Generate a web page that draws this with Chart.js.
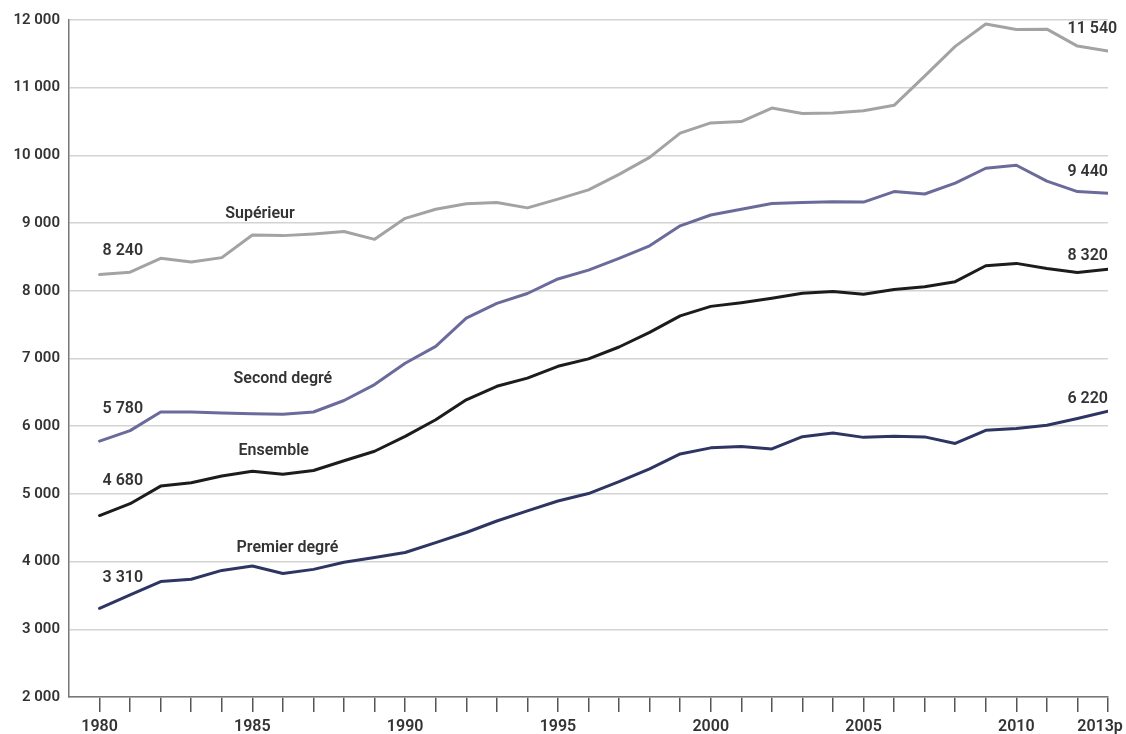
<!DOCTYPE html>
<html><head><meta charset="utf-8">
<script src="https://cdn.jsdelivr.net/npm/chart.js@4.4.0/dist/chart.umd.min.js"></script>
<style>html,body{margin:0;padding:0;background:#fff;}#wrap{width:1126px;height:734px;position:relative;}</style>
</head><body><div id="wrap"><canvas id="c"></canvas></div>
<script>
const years = [1980,1981,1982,1983,1984,1985,1986,1987,1988,1989,1990,1991,1992,1993,1994,1995,1996,1997,1998,1999,2000,2001,2002,2003,2004,2005,2006,2007,2008,2009,2010,2011,2012,2013];
const superieur = [8240,8275,8480,8425,8490,8825,8815,8840,8875,8760,9070,9205,9285,9305,9225,9355,9490,9720,9970,10330,10480,10500,10700,10620,10625,10660,10740,11170,11610,11940,11860,11865,11615,11540];
const secondDegre = [5780,5935,6210,6210,6195,6185,6175,6210,6380,6615,6930,7180,7595,7815,7960,8175,8305,8480,8665,8960,9120,9205,9290,9305,9315,9310,9465,9430,9590,9810,9855,9620,9465,9440];
const ensemble = [4680,4855,5115,5165,5265,5335,5290,5345,5490,5630,5850,6095,6390,6590,6710,6885,6995,7170,7385,7630,7770,7825,7890,7965,7990,7950,8020,8060,8135,8370,8405,8330,8270,8320];
const premierDegre = [3310,3510,3705,3740,3870,3935,3825,3885,3990,4060,4135,4280,4430,4600,4750,4895,5005,5180,5370,5590,5680,5700,5665,5845,5900,5835,5850,5842,5745,5940,5965,6015,6115,6220];
const yTicks = [2000,3000,4000,5000,6000,7000,8000,9000,10000,11000,12000];
const xTickYears = [1980,1985,1990,1995,2000,2005,2010,2013];
const xTickLabels = ['1980','1985','1990','1995','2000','2005','2010','2013p'];
const seriesNames = ['Supérieur','Second degré','Ensemble','Premier degré'];
const seriesColors = ['#a3a3a3','#6b6b9b','#1c1c1c','#2f3563'];
// text annotations anchored in data coordinates (year, value)
const nameLabels = [
  {text:'Supérieur', x:1985.25, y:9135},
  {text:'Second degré', x:1986.0, y:6695},
  {text:'Ensemble', x:1985.7, y:5630},
  {text:'Premier degré', x:1986.15, y:4200}
];
const startLabels = [
  {text:'8 240', x:1980.1, y:8590},
  {text:'5 780', x:1980.1, y:6250},
  {text:'4 680', x:1980.1, y:5190},
  {text:'3 310', x:1980.1, y:3755}
];
const endLabels = [
  {text:'11 540', x:2013.3, y:11870},
  {text:'9 440', x:2013, y:9760},
  {text:'8 320', x:2013, y:8515},
  {text:'6 220', x:2013, y:6400}
];

const FONT_FAMILY = 'Roboto, "DejaVu Sans", sans-serif';
const fmt = v => String(v).replace(/\B(?=(\d{3})+(?!\d))/g, ' ');

const seriesData = [superieur, secondDegre, ensemble, premierDegre];
const datasets = seriesData.map((arr, i) => ({
  label: seriesNames[i],
  data: years.map((yr, k) => ({x: yr, y: arr[k]})),
  borderColor: seriesColors[i],
  backgroundColor: seriesColors[i],
  borderWidth: 3,
  pointRadius: 0,
  tension: 0,
  fill: false,
  borderJoinStyle: 'round',
  borderCapStyle: 'round'
}));

const annotPlugin = {
  id: 'annot',
  afterDatasetsDraw(chart) {
    const {ctx, scales:{x, y}} = chart;
    ctx.save();
    ctx.fillStyle = '#333';
    ctx.font = '600 16px ' + FONT_FAMILY;
    ctx.textBaseline = 'middle';
    ctx.textAlign = 'center';
    nameLabels.forEach(l => ctx.fillText(l.text, x.getPixelForValue(l.x), y.getPixelForValue(l.y)));
    ctx.textAlign = 'left';
    startLabels.forEach(l => ctx.fillText(l.text, x.getPixelForValue(l.x), y.getPixelForValue(l.y)));
    ctx.textAlign = 'right';
    endLabels.forEach(l => ctx.fillText(l.text, x.getPixelForValue(l.x), y.getPixelForValue(l.y)));
    ctx.restore();
  }
};

new Chart(document.getElementById('c'), {
  type: 'line',
  data: { datasets },
  plugins: [annotPlugin],
  options: {
    responsive: true,
    maintainAspectRatio: false,
    animation: false,
    layout: { padding: { left: 0, top: 20, right: 18, bottom: 0 } },
    plugins: { legend: { display: false }, tooltip: { enabled: false } },
    scales: {
      x: {
        type: 'linear',
        min: 1979,
        max: 2013,
        afterBuildTicks: s => { s.ticks = years.map(v => ({value: v})); },
        afterFit: s => { s.height = 37; s.paddingLeft = 0; s.paddingRight = 0; },
        grid: { display: true, drawOnChartArea: false, drawTicks: true, tickLength: 15, color: '#555', lineWidth: 1.5 },
        border: { display: true, color: '#777', width: 1.5 },
        ticks: {
          autoSkip: false, maxRotation: 0, minRotation: 0, padding: 5,
          color: '#333',
          font: { family: FONT_FAMILY, size: 16, weight: '600' },
          callback: v => {
            const i = xTickYears.indexOf(v);
            if (i < 0) return '';
            return i === xTickYears.length - 1 ? xTickLabels[i] + '\u00a0\u00a0\u00a0\u00a0' : xTickLabels[i];
          }
        }
      },
      y: {
        type: 'linear',
        min: 2000,
        max: 12000,
        afterBuildTicks: s => { s.ticks = yTicks.map(v => ({value: v})); },
        afterFit: s => { s.width = 69; s.paddingTop = 0; s.paddingBottom = 0; },
        grid: { color: '#d3d3d3', lineWidth: 1.5, drawTicks: false },
        border: { display: true, color: '#777', width: 1.5 },
        ticks: {
          padding: 9,
          color: '#333',
          font: { family: FONT_FAMILY, size: 15, weight: '600' },
          callback: v => fmt(v)
        }
      }
    }
  }
});
</script>
</body></html>
